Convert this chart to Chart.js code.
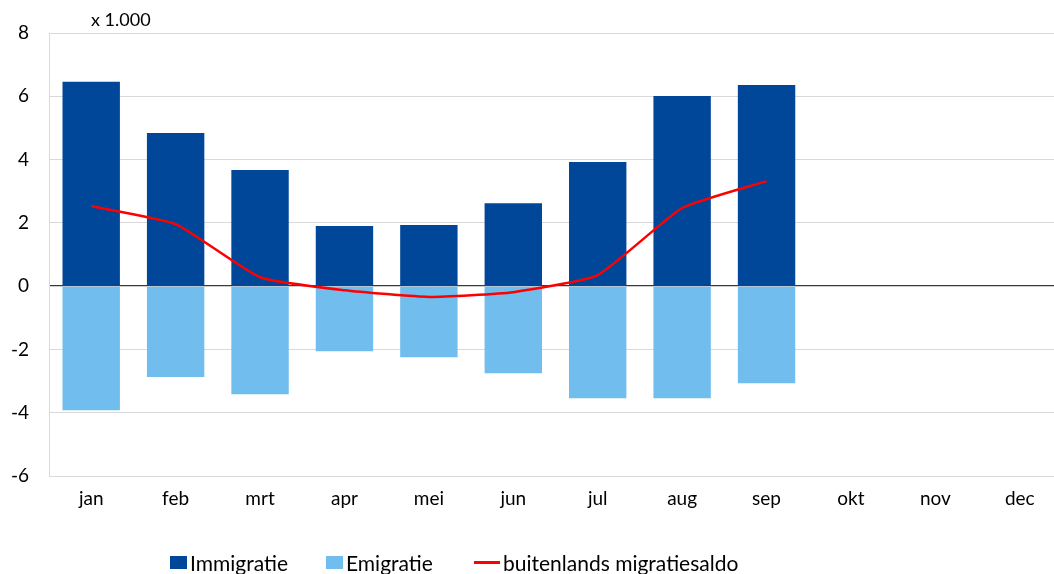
<!DOCTYPE html>
<html>
<head>
<meta charset="utf-8">
<script src="https://cdn.jsdelivr.net/npm/chart.js@4.4.1/dist/chart.umd.min.js"></script>
<style>
    html, body { margin: 0; padding: 0; background: #fff; overflow: hidden; }
    #wrap { position: relative; width: 1062px; height: 574px; }
    #legend {
        position: absolute; left: 170px; top: 550px;
        display: flex;
        font-family: Lato, "Noto Sans", sans-serif; font-size: 21px; color: #000;
    }
    #legend span.item { display: flex; align-items: center; white-space: nowrap; flex: none; }
    #legend i { display: inline-block; margin-right: 3px; }
</style>
</head>
<body>
<div id="wrap">
    <canvas id="migratieChart"></canvas>
    <div id="legend"></div>
</div>
<script>
const months = ["jan", "feb", "mrt", "apr", "mei", "jun", "jul", "aug", "sep", "okt", "nov", "dec"];
// x 1.000 personen
const immigratie = [6.46, 4.84, 3.67, 1.90, 1.93, 2.62, 3.92, 6.01, 6.36, null, null, null];
const emigratie = [-3.92, -2.87, -3.42, -2.06, -2.25, -2.75, -3.54, -3.54, -3.07, null, null, null];
const migratiesaldo = [2.53, 1.96, 0.28, -0.13, -0.34, -0.19, 0.35, 2.47, 3.32, null, null, null];

const FONT = "Lato, 'Noto Sans', sans-serif";
const DARK_BLUE = "#00479a";
const LIGHT_BLUE = "#71bdee";
const RED = "#ff0000";

const unitLabel = {
    id: "unitLabel",
    afterDraw(chart) {
        const { ctx, chartArea } = chart;
        ctx.save();
        ctx.font = "18px " + FONT;
        ctx.fillStyle = "#000";
        ctx.textBaseline = "middle";
        ctx.fillText("x 1.000", chartArea.left + 42, chartArea.top - 13);
        ctx.restore();
    }
};

const chart = new Chart(document.getElementById("migratieChart"), {
    type: "bar",
    data: {
        labels: months,
        datasets: [{
            type: "line",
            label: "buitenlands migratiesaldo",
            data: migratiesaldo,
            stack: "saldo",
            borderColor: RED,
            borderWidth: 2.5,
            pointRadius: 0,
            tension: 0.15,
            order: 0
        }, {
            label: "Immigratie",
            data: immigratie,
            stack: "migratie",
            backgroundColor: DARK_BLUE,
            order: 1
        }, {
            label: "Emigratie",
            data: emigratie,
            stack: "migratie",
            backgroundColor: LIGHT_BLUE,
            order: 1
        }]
    },
    options: {
        responsive: true,
        maintainAspectRatio: false,
        animation: false,
        datasets: {
            bar: { categoryPercentage: 1, barPercentage: 0.68 }
        },
        layout: { padding: { top: 33, right: 0, left: 0, bottom: 0 } },
        plugins: {
            legend: { display: false },
            tooltip: { enabled: false }
        },
        scales: {
            x: {
                stacked: true,
                grid: { display: false, drawTicks: false },
                border: { color: "#d9d9d9" },
                ticks: { color: "#000", font: { family: FONT, size: 19 }, padding: 11 },
                afterFit(scale) { scale.height = 98; }
            },
            y: {
                stacked: true,
                min: -6,
                max: 8,
                ticks: { stepSize: 2, color: "#000", font: { family: FONT, size: 19 }, padding: 20 },
                grid: {
                    drawTicks: false,
                    color: (c) => c.tick && c.tick.value === 0 ? "#3a3a3a" : "#d9d9d9",
                    lineWidth: (c) => c.tick && c.tick.value === 0 ? 1.3 : 1
                },
                border: { color: "#d9d9d9" },
                afterFit(scale) { scale.width = 49; }
            }
        }
    },
    plugins: [unitLabel]
});

// legend under the chart
const legendItems = [
    { text: "Immigratie", width: 156, swatch: "width:17px;height:13px;background:" + DARK_BLUE },
    { text: "Emigratie", width: 148, swatch: "width:17px;height:13px;background:" + LIGHT_BLUE },
    { text: "buitenlands migratiesaldo", width: 300, swatch: "width:26px;height:3px;background:" + RED }
];
document.getElementById("legend").innerHTML = legendItems
    .map(l => `<span class="item" style="width:${l.width}px"><i style="${l.swatch}"></i>${l.text}</span>`)
    .join("");
</script>
</body>
</html>
